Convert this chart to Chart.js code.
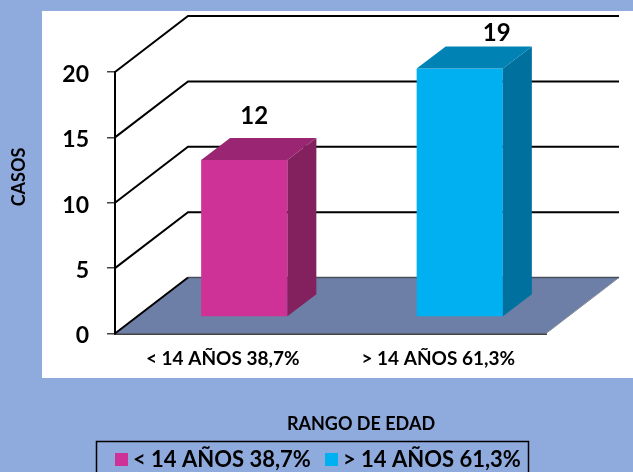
<!DOCTYPE html>
<html>
<head>
<meta charset="utf-8">
<style>html,body{margin:0;padding:0;background:#8FAADC;overflow:hidden}canvas{display:block}</style>
<script src="https://cdn.jsdelivr.net/npm/chart.js@4/dist/chart.umd.min.js"></script>
</head>
<body>
<canvas id="c" width="633" height="472"></canvas>
<script>
const categories = ['< 14 AÑOS 38,7%', '> 14 AÑOS 61,3%'];
const casos = [12, 19];
const yTicks = [0, 5, 10, 15, 20];
const yTitle = 'CASOS';
const xTitle = 'RANGO DE EDAD';
const frontColors = ['#CF3296', '#00B0F0'];
const topColors = ['#992573', '#0083B4'];
const sideColors = ['#83215F', '#00719F'];

const FONT = 'Lato, Carlito, sans-serif';
const WALL = {dx: 73, dy: -56};
const BAR_OFFSET = {dx: 21.5, dy: -16.5};
const BAR_DEPTH = {dx: 29, dy: -22};
const LABEL_NUDGE = [{dx: 10, dy: -44}, {dx: 37, dy: -35}];
const LEGEND_SWATCH_X = [115, 325];
const LEGEND_TEXT_X = [133, 343];

function poly(ctx, pts, fill) {
  ctx.beginPath();
  pts.forEach((p, i) => i ? ctx.lineTo(p[0], p[1]) : ctx.moveTo(p[0], p[1]));
  ctx.closePath();
  if (fill) { ctx.fillStyle = fill; ctx.fill(); }
}

const scene3d = {
  id: 'scene3d',
  beforeDraw(chart) {
    const ctx = chart.ctx;
    ctx.save();
    ctx.fillStyle = '#8FAADC';
    ctx.fillRect(0, 0, chart.width, chart.height);
    ctx.fillStyle = '#FFFFFF';
    ctx.fillRect(42, 11, 591, 367);
    ctx.restore();
  },
  beforeDatasetsDraw(chart) {
    const {ctx, scales: {y}, chartArea: a} = chart;
    ctx.save();
    const y0 = y.getPixelForValue(0);
    poly(ctx, [[a.left, y0], [a.left + WALL.dx, y0 + WALL.dy], [a.right + WALL.dx, y0 + WALL.dy], [a.right, y0]], '#6D7FA6');
    ctx.strokeStyle = '#8A8F99';
    ctx.lineWidth = 1;
    ctx.beginPath();
    ctx.moveTo(a.right, y0);
    ctx.lineTo(a.right + WALL.dx, y0 + WALL.dy);
    ctx.stroke();
    ctx.strokeStyle = '#4A4F5C';
    ctx.lineWidth = 1.5;
    ctx.beginPath();
    ctx.moveTo(a.left + WALL.dx, y0 + WALL.dy);
    ctx.lineTo(a.right + WALL.dx, y0 + WALL.dy);
    ctx.stroke();
    ctx.strokeStyle = '#000000';
    ctx.lineWidth = 2;
    yTicks.forEach(v => {
      const py = y.getPixelForValue(v);
      ctx.beginPath();
      ctx.moveTo(a.left, py);
      ctx.lineTo(a.left + WALL.dx, py + WALL.dy);
      if (v > 0) ctx.lineTo(a.right + WALL.dx, py + WALL.dy);
      ctx.stroke();
    });
    ctx.restore();
  },
  beforeDatasetDraw(chart) {
    const ctx = chart.ctx;
    ctx.save();
    ctx.translate(BAR_OFFSET.dx, BAR_OFFSET.dy);
  },
  afterDatasetDraw(chart) {
    const ctx = chart.ctx;
    ctx.restore();
    ctx.save();
    chart.getDatasetMeta(0).data.forEach((el, i) => {
      const p = el.getProps(['x', 'y', 'base', 'width'], true);
      const l = p.x - p.width / 2 + BAR_OFFSET.dx;
      const r = p.x + p.width / 2 + BAR_OFFSET.dx;
      const t = p.y + BAR_OFFSET.dy;
      const b = p.base + BAR_OFFSET.dy;
      poly(ctx, [[r, t], [r + BAR_DEPTH.dx, t + BAR_DEPTH.dy], [r + BAR_DEPTH.dx, b + BAR_DEPTH.dy], [r, b]], sideColors[i]);
      poly(ctx, [[l, t], [l + BAR_DEPTH.dx, t + BAR_DEPTH.dy], [r + BAR_DEPTH.dx, t + BAR_DEPTH.dy], [r, t]], topColors[i]);
      ctx.fillStyle = '#000000';
      ctx.font = 'bold 24px ' + FONT;
      ctx.textAlign = 'center';
      ctx.textBaseline = 'middle';
      ctx.fillText(String(casos[i]), (l + r) / 2 + LABEL_NUDGE[i].dx, t + LABEL_NUDGE[i].dy);
    });
    ctx.restore();
  },
  afterDraw(chart) {
    const ctx = chart.ctx;
    ctx.save();
    ctx.fillStyle = '#000000';
    ctx.textAlign = 'center';
    ctx.textBaseline = 'middle';
    ctx.font = 'bold 18px ' + FONT;
    ctx.fillText(xTitle, 361, 424);
    ctx.save();
    ctx.translate(19, 177);
    ctx.rotate(-Math.PI / 2);
    ctx.fillText(yTitle, 0, 0);
    ctx.restore();
    ctx.strokeStyle = '#000000';
    ctx.lineWidth = 1.5;
    ctx.strokeRect(96.5, 441.5, 432, 40);
    ctx.textAlign = 'left';
    ctx.font = 'bold 22px ' + FONT;
    categories.forEach((c, i) => {
      ctx.fillStyle = frontColors[i];
      ctx.fillRect(LEGEND_SWATCH_X[i], 453, 13, 13);
      ctx.fillStyle = '#000000';
      ctx.fillText(c, LEGEND_TEXT_X[i], 460);
    });
    ctx.restore();
  }
};

new Chart(document.getElementById('c'), {
  type: 'bar',
  data: {
    labels: categories,
    datasets: [{
      label: yTitle,
      data: casos,
      backgroundColor: frontColors,
      borderWidth: 0,
      barPercentage: 0.4,
      categoryPercentage: 1,
      clip: false
    }]
  },
  options: {
    responsive: false,
    animation: false,
    devicePixelRatio: 1,
    layout: {padding: {left: 0, top: 72, right: 87, bottom: 0}},
    plugins: {
      tooltip: {enabled: false},
      legend: {display: false}
    },
    scales: {
      x: {
        afterFit: s => { s.height = 472 - 333.5; },
        grid: {drawOnChartArea: false, drawTicks: false},
        border: {display: true, color: '#444444', width: 2},
        ticks: {color: '#000000', font: {family: FONT, weight: 'bold', size: 19}, padding: 14, maxRotation: 0}
      },
      y: {
        min: 0, max: 20,
        afterFit: s => { s.width = 115; },
        afterBuildTicks: s => { s.ticks = yTicks.map(v => ({value: v})); },
        grid: {drawOnChartArea: false, drawTicks: true, tickLength: 8, color: '#444444', lineWidth: 1.5},
        border: {display: true, color: '#000000', width: 2},
        ticks: {color: '#000000', font: {family: FONT, weight: 'bold', size: 23}, padding: 18, labelOffset: 2.5}
      }
    }
  },
  plugins: [scene3d]
});
</script>
</body>
</html>
